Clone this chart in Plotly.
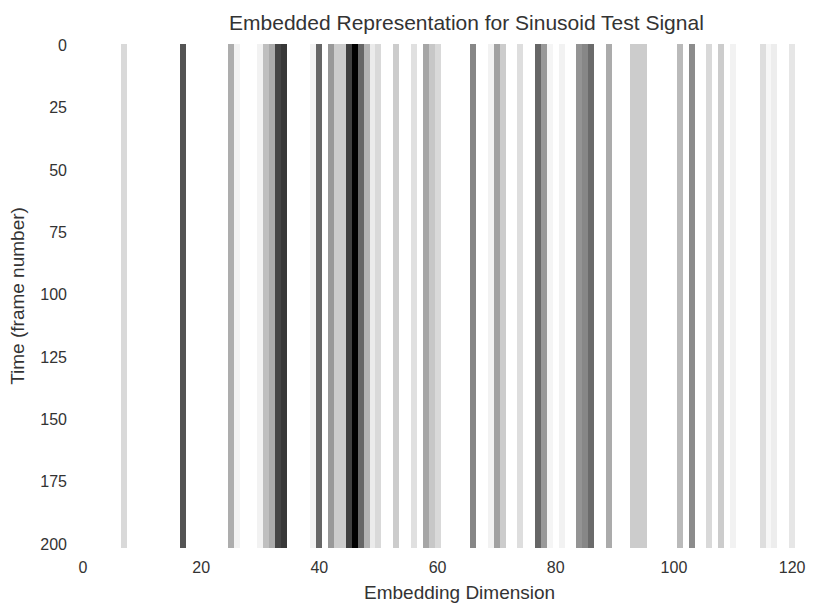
import plotly.graph_objects as go

# ---- data ----
n_dims = 122          # embedding dimensions 0..121
n_frames = 202        # time frames 0..201

active_dims = [7, 17, 25, 26, 30, 31, 32, 33, 34, 39, 40, 42, 43, 44, 45, 46, 47, 48,
               49, 50, 53, 56, 58, 59, 60, 66, 69, 70, 71, 74, 77, 78, 79, 81, 84, 85,
               86, 89, 93, 94, 95, 101, 103, 106, 108, 110, 115, 116, 117, 120]
activations = [0.15, 0.67, 0.32, 0.05, 0.05, 0.25, 0.33, 0.73, 0.78, 0.05, 0.60, 0.40,
               0.20, 0.20, 0.75, 1.00, 0.60, 0.30, 0.08, 0.15, 0.20, 0.12, 0.35, 0.22,
               0.15, 0.47, 0.05, 0.37, 0.20, 0.13, 0.60, 0.40, 0.04, 0.05, 0.42, 0.47,
               0.58, 0.33, 0.20, 0.20, 0.20, 0.27, 0.45, 0.15, 0.20, 0.05, 0.13, 0.03,
               0.07, 0.10]

x_ticks = [0, 20, 40, 60, 80, 100, 120]
y_ticks = [0, 25, 50, 75, 100, 125, 150, 175, 200]

title = "Embedded Representation for Sinusoid Test Signal"
x_title = "Embedding Dimension"
y_title = "Time (frame number)"

# ---- build matrix ----
row = [0.0] * n_dims
for d, v in zip(active_dims, activations):
    row[d] = v
z = [list(row) for _ in range(n_frames)]

font_family = "Liberation Sans, Arial, sans-serif"
txt = "#333333"

fig = go.Figure(go.Heatmap(
    z=z,
    x=list(range(n_dims)),
    y=list(range(n_frames)),
    colorscale=[[0, "#ffffff"], [1, "#000000"]],
    zmin=0, zmax=1,
    showscale=False,
    hoverinfo="skip",
))

fig.update_layout(
    width=814, height=603,
    margin=dict(l=80, r=8, t=44, b=55),
    paper_bgcolor="white",
    plot_bgcolor="white",
    font=dict(family=font_family, color=txt, size=16),
    title=dict(text=title, x=0.536, xref="paper", xanchor="center",
               y=0.962, yref="container", yanchor="middle",
               font=dict(size=21, color=txt)),
    annotations=[dict(text=x_title, xref="paper", yref="paper",
                      x=0.526, y=-0.089, xanchor="center", yanchor="middle",
                      showarrow=False, font=dict(size=19, color=txt))],
)
fig.update_xaxes(
    range=[-0.5, n_dims - 0.5],
    tickmode="array", tickvals=x_ticks, ticktext=[str(t) for t in x_ticks],
    showgrid=False, zeroline=False, showline=False, ticks="",
    ticklabelstandoff=8,
    tickfont=dict(size=16, color=txt),
)
fig.update_yaxes(
    range=[n_frames - 0.5, -0.5],
    tickmode="array", tickvals=y_ticks, ticktext=[str(t) for t in y_ticks],
    showgrid=False, zeroline=False, showline=False, ticks="",
    ticklabelstandoff=12,
    tickfont=dict(size=16, color=txt),
    title=dict(text=y_title, font=dict(size=19, color=txt), standoff=10),
)

fig.write_html("out.html")
